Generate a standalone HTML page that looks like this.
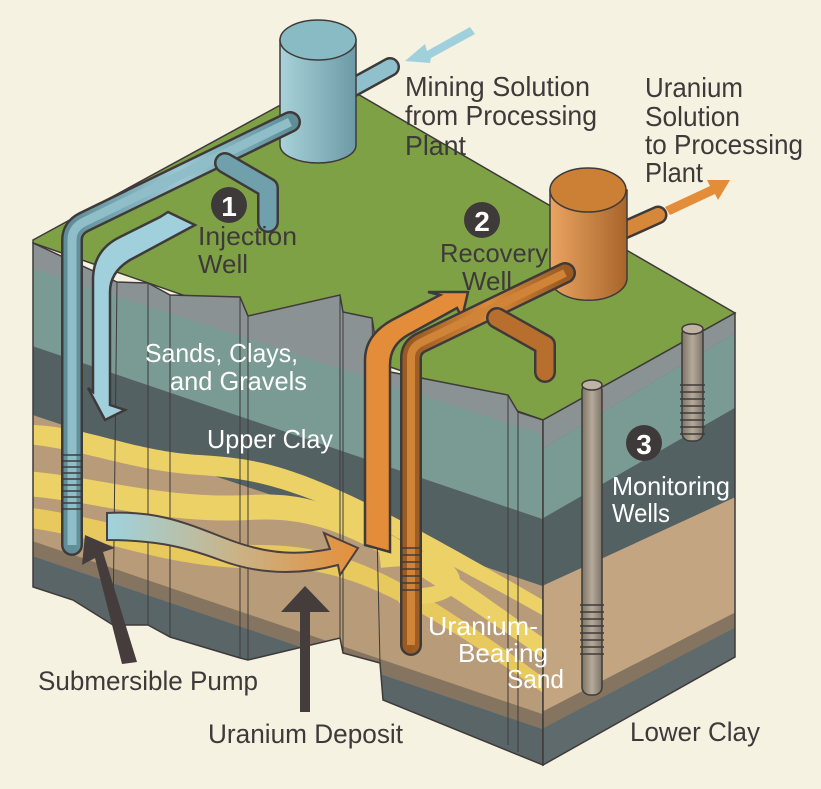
<!DOCTYPE html>
<html><head><meta charset="utf-8">
<style>
html,body{margin:0;padding:0;background:#f6f2e2;}
svg{display:block;}
text{font-family:"Liberation Sans",sans-serif;}
</style></head><body>
<svg width="821" height="789" viewBox="0 0 821 789" xmlns="http://www.w3.org/2000/svg">
<defs>
<clipPath id="front"><polygon points="33,243 117,282 148,283 170,295 240,297 248,316 340,295 343,312 372,318 380,370 508,395 518,412 543,420 543,765 383,700 380,663 343,653 340,638 248,660 240,658 170,637 148,625 113,625 73,600 33,587"/></clipPath>
<clipPath id="right"><polygon points="543,420 735,313 735,657 543,765"/></clipPath>
<linearGradient id="wave" x1="0" x2="1"><stop offset="0" stop-color="#9fd3de"/><stop offset="0.5" stop-color="#c9b48a"/><stop offset="1" stop-color="#e48f3a"/></linearGradient>
<linearGradient id="bpipe" x1="0" x2="1"><stop offset="0" stop-color="#5f8e98"/><stop offset="0.5" stop-color="#9cc8d2"/><stop offset="1" stop-color="#5f8e98"/></linearGradient>
<linearGradient id="opipe" x1="0" x2="1"><stop offset="0" stop-color="#9a5a22"/><stop offset="0.5" stop-color="#d98a3c"/><stop offset="1" stop-color="#9a5a22"/></linearGradient>
<linearGradient id="gpipe" x1="0" x2="1"><stop offset="0" stop-color="#7d7468"/><stop offset="0.5" stop-color="#b5aa9a"/><stop offset="1" stop-color="#7d7468"/></linearGradient>
<linearGradient id="bcyl" x1="0" x2="1"><stop offset="0" stop-color="#a9d2da"/><stop offset="1" stop-color="#6c9aa5"/></linearGradient>
<linearGradient id="ocyl" x1="0" x2="1"><stop offset="0" stop-color="#eaa462"/><stop offset="1" stop-color="#a8652a"/></linearGradient>
</defs>

<!-- green top -->
<polygon points="33,240 330,78 735,313 543,420 33,243" fill="#7ea146" stroke="#3f3a3a" stroke-width="1.5"/>

<!-- front faces -->
<g clip-path="url(#front)">
<rect x="0" y="200" width="560" height="600" fill="#8a9294"/>
<polygon points="0,258 560,440 560,525 0,335" fill="#7a9a94"/>
<polygon points="0,335 560,525 560,592 0,404" fill="#546163"/>
<polygon points="0,404 560,592 560,725 0,540" fill="#b89b78"/>
<path d="M0,425 C80,420 120,450 200,455 C280,460 320,470 560,610 L560,625 C320,490 270,480 200,475 C120,470 80,445 0,442Z" fill="#ecd166"/>
<path d="M0,470 C80,470 150,500 250,495 C330,490 380,520 560,650 L560,670 C380,545 330,515 250,520 C150,525 80,495 0,495Z" fill="#ecd166"/>
<path d="M0,505 C90,510 160,545 260,545 C340,545 400,570 560,690 L560,705 C400,590 340,565 260,568 C160,570 90,530 0,525Z" fill="#e8c95e"/>
<polygon points="0,530 560,720 560,735 0,545" fill="#857560"/>
<polygon points="0,545 560,735 560,800 0,800" fill="#5a6568"/>
<g stroke="#3f3a3a" stroke-width="1"><line x1="117" y1="282" x2="113" y2="625"/><line x1="148" y1="283" x2="148" y2="625"/><line x1="170" y1="295" x2="170" y2="637"/><line x1="240" y1="297" x2="240" y2="658"/><line x1="248" y1="316" x2="248" y2="660"/><line x1="340" y1="295" x2="340" y2="638"/><line x1="343" y1="312" x2="343" y2="653"/><line x1="372" y1="318" x2="380" y2="663"/><line x1="508" y1="395" x2="508" y2="745"/><line x1="518" y1="412" x2="518" y2="752"/></g>
</g>
<polygon points="33,243 117,282 148,283 170,295 240,297 248,316 340,295 343,312 372,318 380,370 508,395 518,412 543,420 543,765 383,700 380,663 343,653 340,638 248,660 240,658 170,637 148,625 113,625 73,600 33,587" fill="none" stroke="#3f3a3a" stroke-width="1.5"/>
<path d="M380,560 C420,555 440,560 450,575 C460,590 430,600 400,595" fill="none" stroke="#ecd166" stroke-width="16"/>

<!-- right face -->
<g clip-path="url(#right)">
<rect x="540" y="300" width="200" height="470" fill="#5f6a6c"/>
<polygon points="540,420 740,310 740,330 540,450" fill="#8a9294"/>
<polygon points="540,450 740,330 740,405 540,520" fill="#7a9a94"/>
<polygon points="540,520 740,405 740,495 540,587" fill="#546163"/>
<polygon points="540,587 740,495 740,610 540,713" fill="#c3a582"/>
<polygon points="540,713 740,610 740,625 540,730" fill="#857560"/>
</g>
<polygon points="543,420 735,313 735,657 543,765" fill="none" stroke="#3f3a3a" stroke-width="1.5"/>

<!-- blue cylinder & pipes -->
<line x1="330" y1="100" x2="390" y2="67" stroke="#3f3a3a" stroke-width="20" stroke-linecap="round"/>
<line x1="330" y1="100" x2="390" y2="67" stroke="#8fc0cb" stroke-width="15" stroke-linecap="round"/>
<path d="M280,40 L280,145 A38,18 0 0 0 356,145 L356,40Z" fill="url(#bcyl)" stroke="#3f3a3a" stroke-width="1.5"/>
<ellipse cx="318" cy="40" rx="38" ry="20" fill="#88bbc4" stroke="#3f3a3a" stroke-width="1.5"/>
<path d="M72,545 L72,240 Q72,228 84,222 L290,122" fill="none" stroke="#3f3a3a" stroke-width="22" stroke-linejoin="round" stroke-linecap="round"/>
<path d="M72,545 L72,240 Q72,228 84,222 L290,122" fill="none" stroke="url(#bpipe)" stroke-width="17" stroke-linejoin="round" stroke-linecap="round"/>
<path d="M72,545 L72,240 Q72,228 84,222 L290,122" fill="none" stroke="#8fbec8" stroke-width="9" stroke-linejoin="round"/>
<g stroke="#3f3a3a" stroke-width="1.5"><line x1="63" y1="455" x2="83" y2="455"/><line x1="63" y1="461" x2="83" y2="461"/><line x1="63" y1="467" x2="83" y2="467"/><line x1="63" y1="473" x2="83" y2="473"/><line x1="63" y1="479" x2="83" y2="479"/><line x1="63" y1="485" x2="83" y2="485"/><line x1="63" y1="491" x2="83" y2="491"/><line x1="63" y1="497" x2="83" y2="497"/><line x1="63" y1="503" x2="83" y2="503"/><line x1="63" y1="509" x2="83" y2="509"/></g>
<path d="M225,163 L268,188 L268,222" fill="none" stroke="#3f3a3a" stroke-width="22" stroke-linejoin="round" stroke-linecap="round"/>
<path d="M225,163 L268,188 L268,222" fill="none" stroke="#6fa0ab" stroke-width="17" stroke-linejoin="round" stroke-linecap="round"/>
<!-- cyan arrow pointing down-left -->
<polygon points="470,27 427,51 425,44 405,61 430,63 431,58 475,34" fill="#9fd0dc"/>

<!-- blue big arrow -->
<path d="M168,212 L195,225 L130,260 Q110,272 110,292 L110,405 L125,410 L105,420 L88,388 L93,392 L93,280 Q93,250 120,237 L160,217Z" fill="#9fd0dc" stroke="#3f3a3a" stroke-width="2.5" stroke-linejoin="miter"/>

<!-- wavy arrow -->
<path d="M107,513 C160,510 190,525 230,540 C270,555 300,555 330,549 L324,533 L358,548 L340,575 L338,565 C300,575 260,575 220,560 C180,545 150,540 107,540Z" fill="url(#wave)" stroke="#4a4040" stroke-width="2"/>

<!-- orange big arrow -->
<path d="M365,545 L365,360 Q365,335 392,320 L440,295 L428,292 L468,292 L462,318 L457,308 L408,335 Q390,345 390,365 L390,552Z" fill="#e38d3a" stroke="#3f3a3a" stroke-width="2.5"/>

<!-- orange cylinder & pipes -->
<line x1="620" y1="232" x2="658" y2="215" stroke="#3f3a3a" stroke-width="19" stroke-linecap="round"/>
<line x1="620" y1="232" x2="658" y2="215" stroke="#d5873a" stroke-width="14" stroke-linecap="round"/>
<path d="M550,190 L550,278 A38,22 0 0 0 627,278 L627,190Z" fill="url(#ocyl)" stroke="#3f3a3a" stroke-width="1.5"/>
<ellipse cx="588" cy="190" rx="38" ry="22" fill="#cc8036" stroke="#3f3a3a" stroke-width="1.5"/>
<path d="M411,645 L411,358 Q411,348 420,343 L565,273" fill="none" stroke="#3f3a3a" stroke-width="22" stroke-linejoin="round" stroke-linecap="round"/>
<path d="M411,645 L411,358 Q411,348 420,343 L565,273" fill="none" stroke="url(#opipe)" stroke-width="17" stroke-linejoin="round" stroke-linecap="round"/>
<path d="M411,645 L411,358 Q411,348 420,343 L565,273" fill="none" stroke="#d08438" stroke-width="8" stroke-linejoin="round"/>
<g stroke="#3f3a3a" stroke-width="1.5"><line x1="402" y1="548" x2="420" y2="548"/><line x1="402" y1="555" x2="420" y2="555"/><line x1="402" y1="562" x2="420" y2="562"/><line x1="402" y1="569" x2="420" y2="569"/><line x1="402" y1="576" x2="420" y2="576"/><line x1="402" y1="583" x2="420" y2="583"/><line x1="402" y1="590" x2="420" y2="590"/></g>
<path d="M497,318 L545,345 L545,372" fill="none" stroke="#3f3a3a" stroke-width="22" stroke-linejoin="round" stroke-linecap="round"/>
<path d="M497,318 L545,345 L545,372" fill="none" stroke="#b86e2c" stroke-width="17" stroke-linejoin="round" stroke-linecap="round"/>
<polygon points="665,207 710,186 707,180 730,180 718,200 715,194 670,215" fill="#e38d3a"/>

<!-- monitoring wells -->
<rect x="582" y="383" width="20" height="312" rx="8" fill="url(#gpipe)" stroke="#3f3a3a" stroke-width="1.5"/>
<ellipse cx="592" cy="385" rx="10" ry="5" fill="#bfb4a3" stroke="#3f3a3a" stroke-width="1.5"/>
<g stroke="#3f3a3a" stroke-width="1.5"><line x1="580" y1="605" x2="604" y2="605"/><line x1="580" y1="612" x2="604" y2="612"/><line x1="580" y1="619" x2="604" y2="619"/><line x1="580" y1="626" x2="604" y2="626"/><line x1="580" y1="633" x2="604" y2="633"/><line x1="580" y1="640" x2="604" y2="640"/><line x1="580" y1="647" x2="604" y2="647"/><line x1="580" y1="654" x2="604" y2="654"/></g>
<rect x="682" y="326" width="21" height="115" rx="8" fill="url(#gpipe)" stroke="#3f3a3a" stroke-width="1.5"/>
<ellipse cx="692.5" cy="329" rx="10.5" ry="5" fill="#bfb4a3" stroke="#3f3a3a" stroke-width="1.5"/>
<g stroke="#3f3a3a" stroke-width="1.5"><line x1="680" y1="385" x2="705" y2="385"/><line x1="680" y1="392" x2="705" y2="392"/><line x1="680" y1="399" x2="705" y2="399"/><line x1="680" y1="406" x2="705" y2="406"/><line x1="680" y1="413" x2="705" y2="413"/><line x1="680" y1="420" x2="705" y2="420"/><line x1="680" y1="427" x2="705" y2="427"/><line x1="680" y1="434" x2="705" y2="434"/></g>

<!-- dark arrows -->
<polygon points="137,662 122,664 95,558 82,565 85,535 115,548 103,552" fill="#453c3c"/>
<polygon points="300,712 310,712 310,612 330,612 305,586 281,612 300,612" fill="#453c3c"/>

<!-- number circles -->
<circle cx="229" cy="205" r="18" fill="#3f3a3a"/><text x="229" y="216" fill="#fff" font-size="28" text-anchor="middle" font-weight="bold">1</text>
<circle cx="482" cy="220" r="18" fill="#3f3a3a"/><text x="482" y="231" fill="#fff" font-size="28" text-anchor="middle" font-weight="bold">2</text>
<circle cx="644" cy="443" r="18" fill="#3f3a3a"/><text x="644" y="454" fill="#fff" font-size="28" text-anchor="middle" font-weight="bold">3</text>

<!-- labels -->
<g fill="#3f3a3a" font-size="28" lengthAdjust="spacingAndGlyphs">
<text x="405" y="96" textLength="185" lengthAdjust="spacingAndGlyphs">Mining Solution</text>
<text x="405" y="125" textLength="192" lengthAdjust="spacingAndGlyphs">from Processing</text>
<text x="405" y="155" textLength="61" lengthAdjust="spacingAndGlyphs">Plant</text>
<text x="645" y="97" textLength="98" lengthAdjust="spacingAndGlyphs">Uranium</text>
<text x="645" y="126" textLength="95" lengthAdjust="spacingAndGlyphs">Solution</text>
<text x="645" y="154" textLength="158" lengthAdjust="spacingAndGlyphs">to Processing</text>
<text x="645" y="182" textLength="58" lengthAdjust="spacingAndGlyphs">Plant</text>
<text x="198" y="245" font-size="26" textLength="99" lengthAdjust="spacingAndGlyphs">Injection</text>
<text x="198" y="273" font-size="26" textLength="50" lengthAdjust="spacingAndGlyphs">Well</text>
<text x="440" y="262" font-size="26" textLength="108" lengthAdjust="spacingAndGlyphs">Recovery</text>
<text x="462" y="290" font-size="26" textLength="50" lengthAdjust="spacingAndGlyphs">Well</text>
<text x="38" y="690" font-size="27" textLength="220" lengthAdjust="spacingAndGlyphs">Submersible Pump</text>
<text x="208" y="743" font-size="27" textLength="195" lengthAdjust="spacingAndGlyphs">Uranium Deposit</text>
<text x="630" y="741" font-size="27" textLength="130" lengthAdjust="spacingAndGlyphs">Lower Clay</text>
</g>
<g fill="#ffffff" font-size="26">
<text x="145" y="362" textLength="153" lengthAdjust="spacingAndGlyphs">Sands, Clays,</text>
<text x="170" y="390" textLength="137" lengthAdjust="spacingAndGlyphs">and Gravels</text>
<text x="207" y="448" textLength="126" lengthAdjust="spacingAndGlyphs">Upper Clay</text>
<text x="612" y="495" textLength="118" lengthAdjust="spacingAndGlyphs">Monitoring</text>
<text x="612" y="522" textLength="58" lengthAdjust="spacingAndGlyphs">Wells</text>
<text x="428" y="635" textLength="110" lengthAdjust="spacingAndGlyphs">Uranium-</text>
<text x="458" y="662" textLength="90" lengthAdjust="spacingAndGlyphs">Bearing</text>
<text x="507" y="688" textLength="57" lengthAdjust="spacingAndGlyphs">Sand</text>
</g>
</svg>
</body></html>
